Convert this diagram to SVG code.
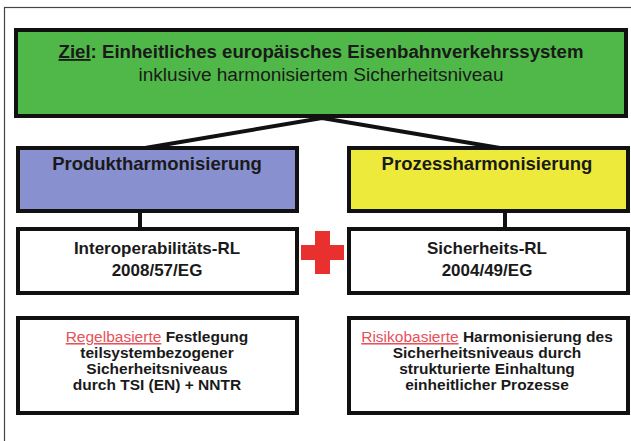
<svg xmlns="http://www.w3.org/2000/svg" width="631" height="441" viewBox="0 0 631 441">
<style>
.t{font-family:"Liberation Sans",Arial,sans-serif;fill:#1a1a1a;text-anchor:middle}
.b{font-weight:bold}
.box{stroke:#111;stroke-width:4}
.con{stroke:#111;stroke-width:4;fill:none}
.red{fill:#e8505a;font-weight:normal;text-decoration:underline}
</style>
<rect x="0" y="0" width="631" height="441" fill="#fff"/>
<rect x="4.5" y="7.5" width="640" height="450" fill="none" stroke="#444" stroke-width="1.2"/>
<g id="connectors">
<polyline class="con" points="145,148 322,118 500,148"/>
<line class="con" x1="140" y1="211" x2="140" y2="229"/>
<line class="con" x1="505" y1="211" x2="505" y2="229"/>
</g>
<g id="ziel">
<rect class="box" x="16" y="30" width="610" height="86" fill="#50b848"/>
<text class="t" x="321" y="58" font-size="18" textLength="525" lengthAdjust="spacingAndGlyphs"><tspan class="b" text-decoration="underline">Ziel</tspan><tspan class="b">: Einheitliches europäisches Eisenbahnverkehrssystem</tspan></text>
<text class="t" x="321" y="81" font-size="18" textLength="365" lengthAdjust="spacingAndGlyphs">inklusive harmonisiertem Sicherheitsniveau</text>
</g>
<g id="produkt">
<rect class="box" x="18" y="148" width="279" height="63" fill="#8890d0"/>
<text class="t b" x="157" y="170" font-size="18.5">Produktharmonisierung</text>
</g>
<g id="prozess">
<rect class="box" x="349" y="148" width="279" height="63" fill="#eeea3c"/>
<text class="t b" x="487" y="170" font-size="18.5">Prozessharmonisierung</text>
</g>
<g id="interop">
<rect class="box" x="18" y="229" width="279" height="64" fill="#fff"/>
<text class="t b" x="157" y="254" font-size="17">Interoperabilitäts-RL</text>
<text class="t b" x="157" y="276" font-size="17">2008/57/EG</text>
</g>
<g id="plus">
<path d="M315,231 h15 v14 h14 v15 h-14 v14 h-15 v-14 h-14 v-15 h14 z" fill="#e8302f"/>
</g>
<g id="sicher">
<rect class="box" x="349" y="229" width="279" height="64" fill="#fff"/>
<text class="t b" x="487" y="254" font-size="17">Sicherheits-RL</text>
<text class="t b" x="487" y="276" font-size="17">2004/49/EG</text>
</g>
<g id="regel">
<rect class="box" x="18" y="318" width="279" height="95" fill="#fff"/>
<text class="t b" x="157" y="342" font-size="15.5"><tspan class="red">Regelbasierte</tspan> Festlegung</text>
<text class="t b" x="157" y="358" font-size="15.5">teilsystembezogener</text>
<text class="t b" x="157" y="374" font-size="15.5">Sicherheitsniveaus</text>
<text class="t b" x="157" y="390" font-size="15.5">durch TSI (EN) + NNTR</text>
</g>
<g id="risiko">
<rect class="box" x="349" y="318" width="279" height="95" fill="#fff"/>
<text class="t b" x="487" y="342" font-size="15.5"><tspan class="red">Risikobasierte</tspan> Harmonisierung des</text>
<text class="t b" x="487" y="358" font-size="15.5">Sicherheitsniveaus durch</text>
<text class="t b" x="487" y="374" font-size="15.5">strukturierte Einhaltung</text>
<text class="t b" x="487" y="390" font-size="15.5">einheitlicher Prozesse</text>
</g>
</svg>
